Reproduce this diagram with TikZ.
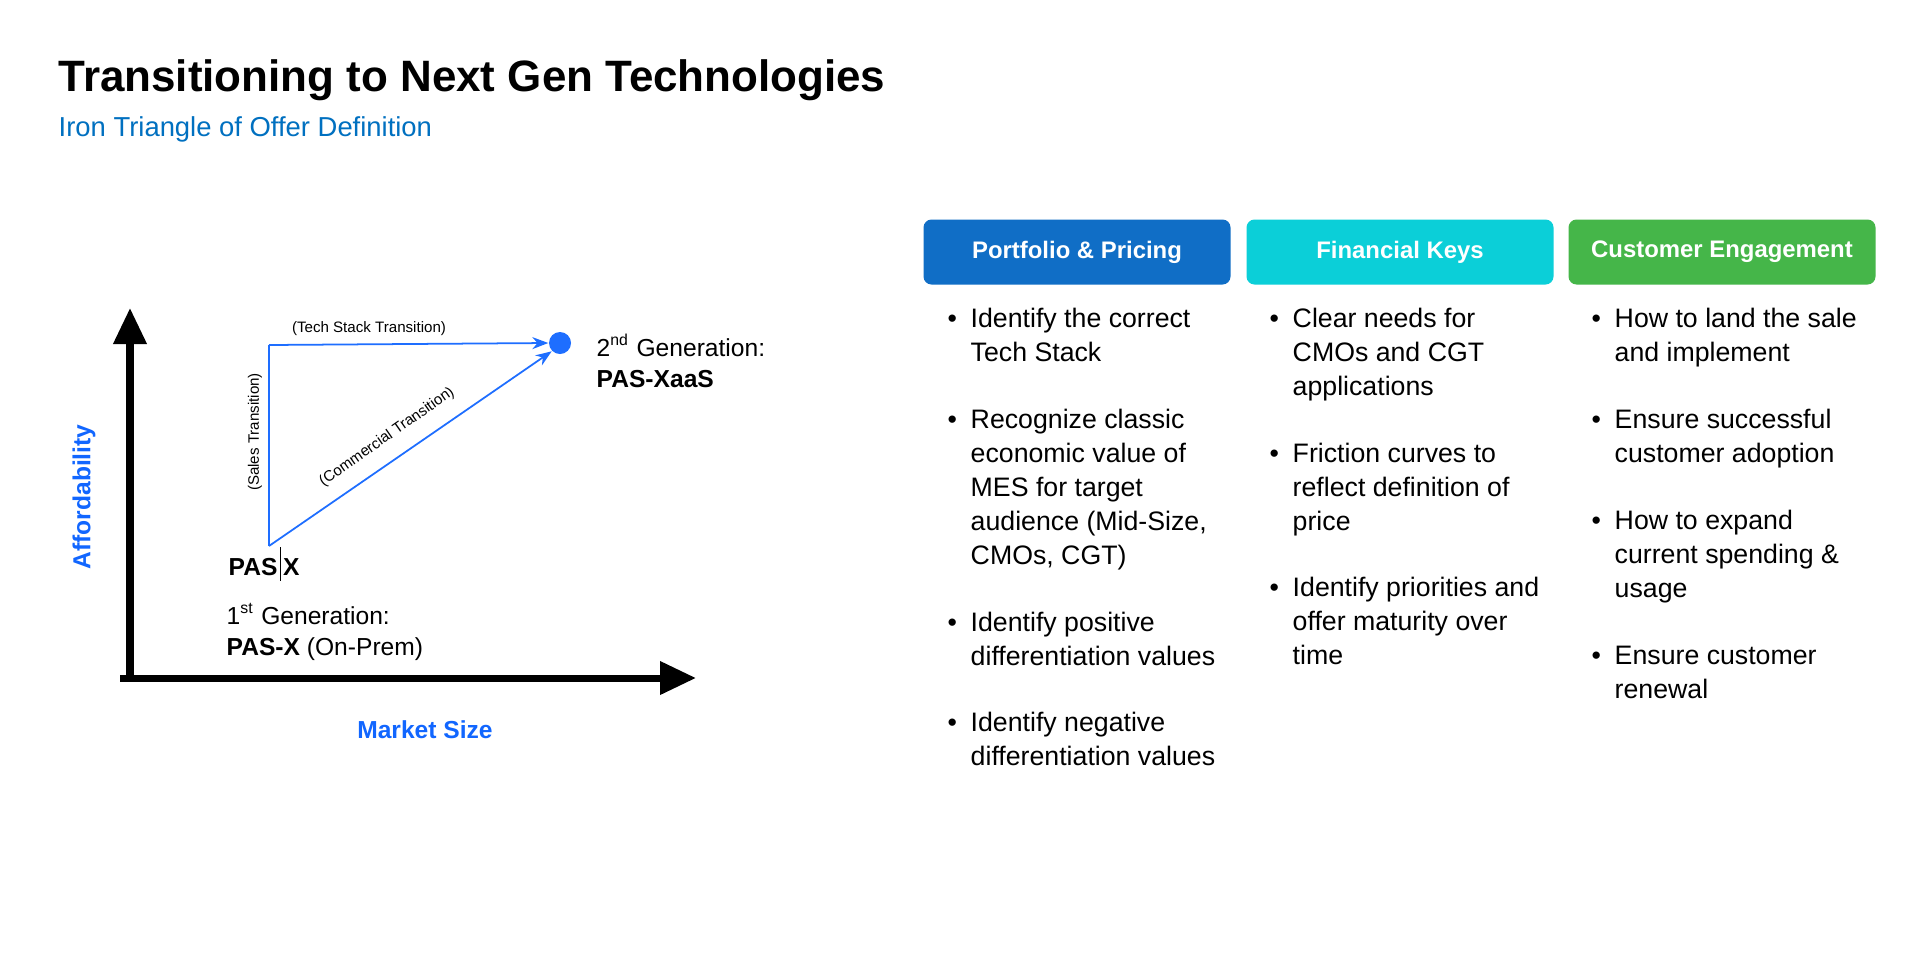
\documentclass[tikz,border=0pt]{standalone}
\usepackage{fontspec}
\setmainfont{Liberation Sans}
\usetikzlibrary{arrows.meta,positioning}
\definecolor{titleblue}{RGB}{0,112,192}
\definecolor{axisblue}{RGB}{17,102,255}
\definecolor{lineblue}{RGB}{30,110,255}
\definecolor{portblue}{RGB}{16,110,198}
\definecolor{fincyan}{RGB}{11,207,216}
\definecolor{custgreen}{RGB}{69,182,73}
\tikzset{
  headbox/.style={rounded corners=0.8mm, minimum width=30.7mm, minimum height=6.5mm,
    text=white, font=\fontsize{6.8}{7}\selectfont\bfseries},
  bullettext/.style={anchor=north west, align=left, inner sep=0pt,
    font=\fontsize{7.6}{9.7}\selectfont},
  bulletdot/.style={anchor=north west, inner sep=0pt, font=\fontsize{7.6}{9.7}\selectfont},
  transarrow/.style={draw=lineblue, line width=0.5pt, -{Stealth[length=1.6mm]}},
  translabel/.style={font=\fontsize{4.3}{5}\selectfont, inner sep=0.5pt},
  genlabel/.style={anchor=west, align=left, inner sep=0pt, font=\fontsize{7}{9}\selectfont},
}
\newcommand{\bitem}[4]{% name, x, y, text
  \node[bulletdot] at (#2-23,#3) {\strut\textbullet};
  \node[bullettext] (#1) at (#2,#3) {\strut#4};
}
\newcommand{\smallsup}[1]{\textsuperscript{\fontsize{4.5}{5}\selectfont #1}}
\begin{document}
\begin{tikzpicture}[x=0.1mm,y=-0.1mm]
  \useasboundingbox[fill=white] (0,0) rectangle (1910,963);

  % titel
  \node[anchor=base west, inner sep=0pt, font=\fontsize{12.5}{14}\selectfont\bfseries] (title) at (58,91) {Transitioning to Next Gen Technologies};
  \node[anchor=base west, inner sep=0pt, font=\fontsize{7.8}{9}\selectfont, text=titleblue] (subtitle) at (58,136) {Iron Triangle of Offer Definition};

  % achsen
  \coordinate (origin) at (130,678);
  \coordinate (ytip) at (130,308);
  \coordinate (xtip) at (696,678);
  \draw[line width=2pt, -{Triangle[length=3.6mm, width=3.2mm]}] ([yshift=-0.1mm]origin) -- (ytip);
  \draw[line width=2pt, -{Triangle[length=3.6mm, width=3.2mm]}] ([xshift=-1mm]origin) -- (xtip);
  \node[rotate=90, text=axisblue, font=\fontsize{7}{8}\selectfont\bfseries] (afford) at (84,497) {Affordability};
  \node[text=axisblue, font=\fontsize{7}{8}\selectfont\bfseries] (market) at (425,730) {Market Size};

  % dreieck
  \coordinate (pasx) at (269,546);
  \coordinate (corner) at (269,345);
  \node[circle, fill=lineblue, inner sep=0pt, minimum size=2.2mm] (gen2) at (560,343) {};
  \draw[lineblue, line width=0.5pt] (pasx) -- (corner);
  \draw[transarrow] (corner) -- (gen2.west);
  \draw[transarrow] (pasx) -- (gen2.south west);
  \node[translabel] (techlbl) at (369,329) {(Tech Stack Transition)};
  \node[translabel, rotate=90] (saleslbl) at (255,432) {(Sales Transition)};
  \node[translabel, rotate=35] (commlbl) at (387,437) {(Commercial Transition)};

  % generationen
  \node[anchor=west, inner sep=0pt, font=\fontsize{7}{8}\selectfont\bfseries] (pasxlbl) at (228,564) {PAS\hspace{0.6pt}\rule[-1.5pt]{0.4pt}{9.5pt}\hspace{0.6pt}X};
  \node[genlabel] (gen1lbl) at (226,632) {1\smallsup{st} Generation:\\\textbf{PAS-X} (On-Prem)};
  \node[genlabel] (gen2lbl) at (596,361) {2\smallsup{nd} Generation:\\\textbf{PAS-XaaS}};

  % kopfzeilen
  \node[headbox, fill=portblue] (port) at (1077,252) {Portfolio \& Pricing};
  \node[headbox, fill=fincyan] (fin) at (1400,252) {Financial Keys};
  \node[headbox, fill=custgreen] (cust) at (1722,252) {Customer Engagement};

  % spalte 1
  \bitem{p1}{970}{303}{Identify the correct\\Tech Stack}
  \bitem{p2}{970}{404}{Recognize classic\\economic value of\\MES for target\\audience (Mid-Size,\\CMOs, CGT)}
  \bitem{p3}{970}{607}{Identify positive\\differentiation values}
  \bitem{p4}{970}{707}{Identify negative\\differentiation values}

  % spalte 2
  \bitem{f1}{1292}{303}{Clear needs for\\CMOs and CGT\\applications}
  \bitem{f2}{1292}{438}{Friction curves to\\reflect definition of\\price}
  \bitem{f3}{1292}{572}{Identify priorities and\\offer maturity over\\time}

  % spalte 3
  \bitem{c1}{1614}{303}{How to land the sale\\and implement}
  \bitem{c2}{1614}{404}{Ensure successful\\customer adoption}
  \bitem{c3}{1614}{505}{How to expand\\current spending \&\\usage}
  \bitem{c4}{1614}{640}{Ensure customer\\renewal}
\end{tikzpicture}
\end{document}
